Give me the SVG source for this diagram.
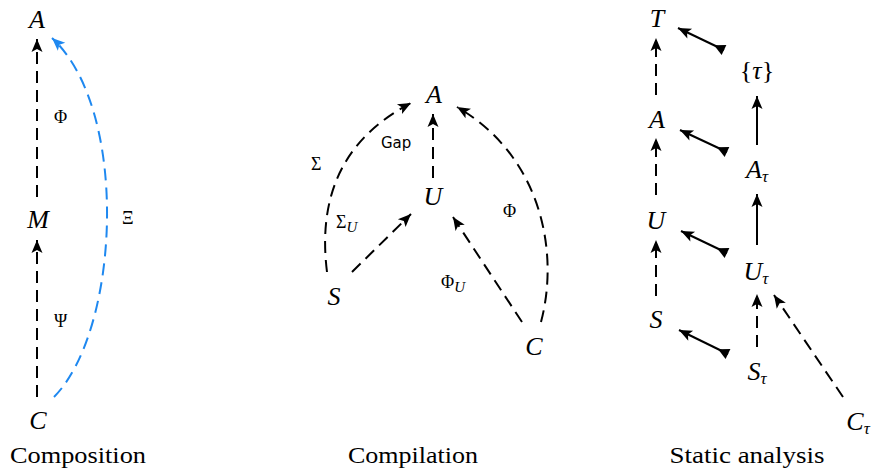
<svg xmlns="http://www.w3.org/2000/svg" width="871" height="471" viewBox="0 0 871 471">
<style>
.m{font-family:"Liberation Serif","Times New Roman",serif;font-style:italic;font-size:26px;text-anchor:middle;fill:#000}
.up{font-style:normal}
.sb{font-size:17px}
.g{font-family:"Liberation Serif","Times New Roman",serif;font-size:18px;fill:#000}
.gi{font-style:italic;font-size:15px}
.cap{font-family:"Liberation Serif","Times New Roman",serif;font-size:24px;text-anchor:middle;fill:#000}
.sans{font-family:"DejaVu Sans","Open Sans",sans-serif;font-size:15px;fill:#000}
.d{fill:none;stroke:#000;stroke-width:2;stroke-dasharray:12 7;marker-end:url(#h)}
.s{fill:none;stroke:#000;stroke-width:2;marker-end:url(#h)}
.b{fill:none;stroke:#1e88f0;stroke-width:2;stroke-dasharray:12 7;marker-end:url(#hb)}
.t{fill:none;stroke:#000;stroke-width:2;marker-start:url(#tl);marker-end:url(#h)}
</style>
<defs>
<marker id="h" markerUnits="userSpaceOnUse" markerWidth="20" markerHeight="20" refX="0" refY="0" orient="auto" style="overflow:visible"><path d="M0,0 L-13,-5.5 L-10,0 L-13,5.5 Z" fill="#000"/></marker>
<marker id="hb" markerUnits="userSpaceOnUse" markerWidth="20" markerHeight="20" refX="0" refY="0" orient="auto" style="overflow:visible"><path d="M0,0 L-13,-5.5 L-10,0 L-13,5.5 Z" fill="#1e88f0"/></marker>
<marker id="tl" markerUnits="userSpaceOnUse" markerWidth="20" markerHeight="20" refX="0" refY="0" orient="auto" style="overflow:visible"><path d="M0,-5.5 L11,0 L0,5.5 Z" fill="#000"/></marker>
</defs>

<g id="connectors">
<path class="d" d="M37,197 L37,39"/>
<path class="d" d="M37,397 L37,240"/>
<path class="b" d="M54,397 C120,330 130,110 52,38"/>
<path class="d" d="M433,178 L433,114"/>
<path class="d" d="M352,272 L411,214"/>
<path class="d" d="M522,322 L453,217"/>
<path class="d" d="M327,272 C318,200 340,140 411,103"/>
<path class="d" d="M541,322 C560,250 540,155 457,107"/>
<path class="d" d="M656,95 L656,38"/>
<path class="d" d="M656,195 L656,138"/>
<path class="d" d="M656,296 L656,240"/>
<path class="s" d="M757,145 L757,96"/>
<path class="s" d="M757,245 L757,194"/>
<path class="d" d="M757,347 L757,294"/>
<path class="d" d="M843,397 L774,295"/>
<path class="t" d="M724,50 L678,28"/>
<path class="t" d="M727,152 L680,130"/>
<path class="t" d="M727,253 L681,231"/>
<path class="t" d="M728,354 L679,330"/>
</g>

<g id="labels">
<text class="g" x="54" y="123">Φ</text>
<text class="g" x="54" y="327">Ψ</text>
<text class="g" x="122" y="224">Ξ</text>
<text class="sans" x="381" y="148">Gap</text>
<text class="g" x="311" y="170">Σ</text>
<text class="g" x="503" y="217">Φ</text>
<text class="g" x="336" y="228">Σ<tspan class="gi" dy="4">U</tspan></text>
<text class="g" x="441" y="288">Φ<tspan class="gi" dy="4">U</tspan></text>
</g>

<g id="comp-A"><text class="m" x="37" y="28">A</text></g>
<g id="comp-M"><text class="m" x="38" y="228">M</text></g>
<g id="comp-C"><text class="m" x="38" y="429">C</text></g>

<g id="cpl-A"><text class="m" x="434" y="103">A</text></g>
<g id="cpl-U"><text class="m" x="433" y="205">U</text></g>
<g id="cpl-S"><text class="m" x="334" y="305">S</text></g>
<g id="cpl-C"><text class="m" x="534" y="355">C</text></g>

<g id="sa-T"><text class="m" x="657" y="27">T</text></g>
<g id="sa-A"><text class="m" x="657" y="128">A</text></g>
<g id="sa-U"><text class="m" x="656" y="229">U</text></g>
<g id="sa-S"><text class="m" x="656" y="328">S</text></g>
<g id="sa-tau"><text class="m" x="757" y="79"><tspan class="up">{</tspan>τ<tspan class="up">}</tspan></text></g>
<g id="sa-Atau"><text class="m" x="757" y="178">A<tspan class="sb" dy="4">τ</tspan></text></g>
<g id="sa-Utau"><text class="m" x="756" y="280">U<tspan class="sb" dy="4">τ</tspan></text></g>
<g id="sa-Stau"><text class="m" x="757" y="380">S<tspan class="sb" dy="4">τ</tspan></text></g>
<g id="sa-Ctau"><text class="m" x="858" y="430">C<tspan class="sb" dy="4">τ</tspan></text></g>

<g id="captions">
<text class="cap" x="78" y="463" textLength="136" lengthAdjust="spacingAndGlyphs">Composition</text>
<text class="cap" x="413" y="463" textLength="130" lengthAdjust="spacingAndGlyphs">Compilation</text>
<text class="cap" x="747" y="463" textLength="155" lengthAdjust="spacingAndGlyphs">Static analysis</text>
</g>
</svg>
